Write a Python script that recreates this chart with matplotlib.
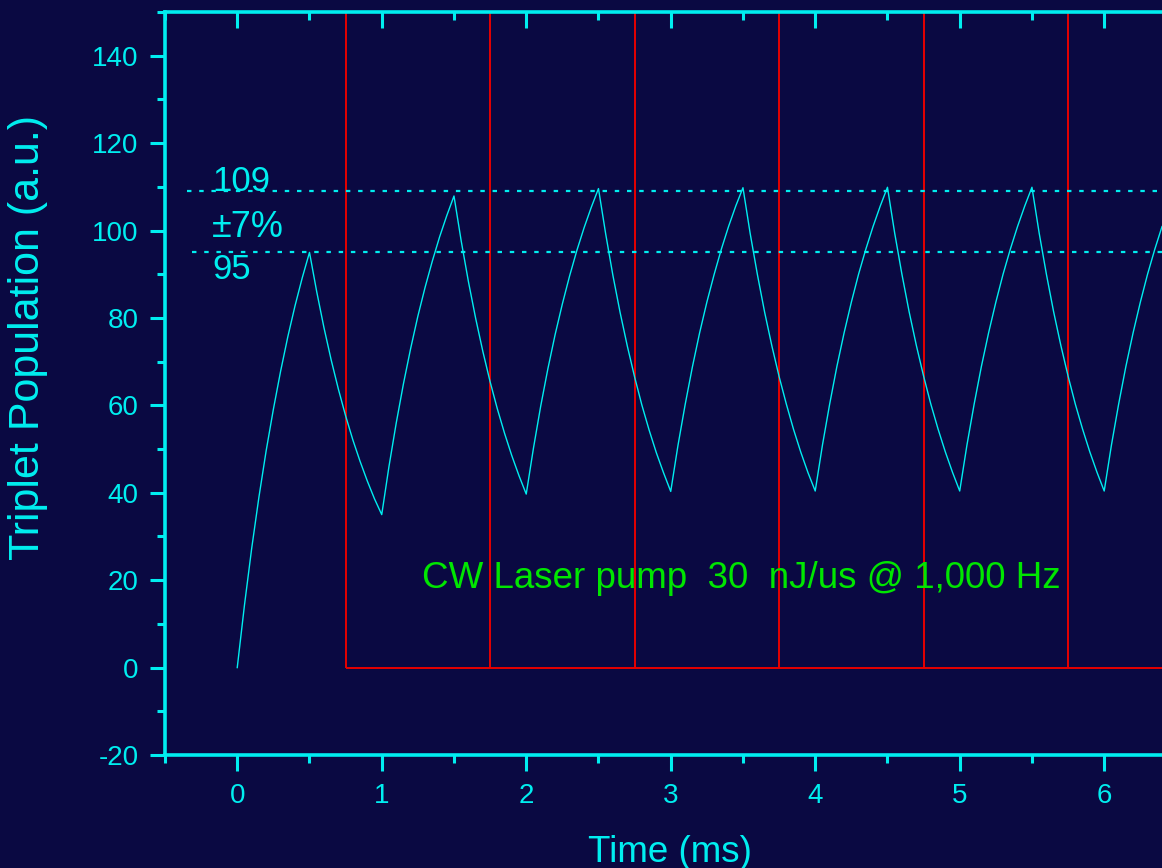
import matplotlib
matplotlib.use("Agg")
import matplotlib.pyplot as plt

time_ms = [0.00, 0.05, 0.10, 0.15, 0.20, 0.25, 0.30, 0.35, 0.40, 0.45,
           0.50, 0.55, 0.60, 0.65, 0.70, 0.75, 0.80, 0.85, 0.90, 0.95,
           1.00, 1.05, 1.10, 1.15, 1.20, 1.25, 1.30, 1.35, 1.40, 1.45,
           1.50, 1.55, 1.60, 1.65, 1.70, 1.75, 1.80, 1.85, 1.90, 1.95,
           2.00, 2.05, 2.10, 2.15, 2.20, 2.25, 2.30, 2.35, 2.40, 2.45,
           2.50, 2.55, 2.60, 2.65, 2.70, 2.75, 2.80, 2.85, 2.90, 2.95,
           3.00, 3.05, 3.10, 3.15, 3.20, 3.25, 3.30, 3.35, 3.40, 3.45,
           3.50, 3.55, 3.60, 3.65, 3.70, 3.75, 3.80, 3.85, 3.90, 3.95,
           4.00, 4.05, 4.10, 4.15, 4.20, 4.25, 4.30, 4.35, 4.40, 4.45,
           4.50, 4.55, 4.60, 4.65, 4.70, 4.75, 4.80, 4.85, 4.90, 4.95,
           5.00, 5.05, 5.10, 5.15, 5.20, 5.25, 5.30, 5.35, 5.40, 5.45,
           5.50, 5.55, 5.60, 5.65, 5.70, 5.75, 5.80, 5.85, 5.90, 5.95,
           6.00, 6.05, 6.10, 6.15, 6.20, 6.25, 6.30, 6.35, 6.40]
population = [0.0, 14.3, 27.3, 39.0, 49.6, 59.1, 67.8, 75.7, 82.8, 89.2,
              95.0, 86.0, 77.8, 70.4, 63.7, 57.6, 52.1, 47.2, 42.7, 38.6,
              35.0, 46.0, 55.9, 64.9, 73.0, 80.4, 87.0, 93.0, 98.5, 103.4,
              107.9, 97.6, 88.3, 79.9, 72.3, 65.4, 59.2, 53.6, 48.5, 43.9,
              39.7, 50.2, 59.8, 68.4, 76.2, 83.2, 89.6, 95.4, 100.6, 105.3,
              109.6, 99.2, 89.7, 81.2, 73.5, 66.5, 60.1, 54.4, 49.2, 44.6,
              40.3, 50.8, 60.2, 68.8, 76.6, 83.6, 89.9, 95.7, 100.9, 105.6,
              109.8, 99.3, 89.9, 81.3, 73.6, 66.6, 60.3, 54.5, 49.3, 44.6,
              40.4, 50.9, 60.3, 68.9, 76.6, 83.6, 90.0, 95.7, 100.9, 105.6,
              109.9, 99.4, 90.0, 81.4, 73.7, 66.7, 60.3, 54.6, 49.4, 44.7,
              40.4, 50.9, 60.3, 68.9, 76.6, 83.6, 90.0, 95.7, 100.9, 105.6,
              109.9, 99.4, 90.0, 81.4, 73.7, 66.7, 60.3, 54.6, 49.4, 44.7,
              40.4, 50.9, 60.3, 68.9, 76.6, 83.6, 90.0, 95.7, 100.9]
pulse_times = [0.75, 1.75, 2.75, 3.75, 4.75, 5.75]
pulse_top = 150
pulse_base = 0
pulse_end = 6.4
upper_level = 109
lower_level = 95
upper_label = "109"
mid_label = "\u00b17%"
lower_label = "95"
note_text = "CW Laser pump  30  nJ/us @ 1,000 Hz"
x_ticks = [0, 1, 2, 3, 4, 5, 6]
x_minor = [-0.5, 0.5, 1.5, 2.5, 3.5, 4.5, 5.5]
y_ticks = [-20, 0, 20, 40, 60, 80, 100, 120, 140]
y_minor = [-10, 10, 30, 50, 70, 90, 110, 130, 150]

BG = "#0a0942"
CYAN = "#00eef0"
RED = "#e80000"
GREEN = "#00e600"

plt.rcParams["font.family"] = ["Liberation Sans", "DejaVu Sans"]
plt.rcParams["axes.unicode_minus"] = False

W, H = 1162, 868
fig = plt.figure(figsize=(W / 100, H / 100), dpi=100, facecolor=BG)
ax = fig.add_axes([165 / W, (H - 755) / H, (W - 165) / W, (755 - 12) / H])
ax.set_facecolor(BG)

# red pump pulses
ax.vlines(pulse_times, pulse_base, pulse_top, colors=RED, lw=1.4, zorder=2)
ax.hlines(pulse_base, pulse_times[0], pulse_end, colors=RED, lw=1.4, zorder=2)

# dotted reference levels
ax.hlines(upper_level, -0.35, pulse_end, colors=CYAN, lw=1.6,
          linestyles=(0, (2, 3.5)), zorder=2)
ax.hlines(lower_level, -0.31, pulse_end, colors=CYAN, lw=1.6,
          linestyles=(0, (2, 3.5)), zorder=2)

# population curve
ax.plot(time_ms, population, color=CYAN, lw=1.0, zorder=3)

# annotations
ax.text(-0.17, upper_level + 0.1, upper_label, color=CYAN, fontsize=25,
        ha="left", va="baseline")
ax.text(-0.175, 98.6, mid_label, color=CYAN, fontsize=26,
        ha="left", va="baseline")
ax.text(-0.175, 89.0, lower_label, color=CYAN, fontsize=25,
        ha="left", va="baseline")
ax.text(3.49, 18.3, note_text, color=GREEN, fontsize=26.5,
        ha="center", va="baseline")

# spines
for side in ["left", "bottom", "top"]:
    ax.spines[side].set_color(CYAN)
    ax.spines[side].set_linewidth(2.6)
ax.spines["right"].set_visible(False)

ax.set_xticks(x_ticks)
ax.set_xticks(x_minor, minor=True)
ax.set_yticks(y_ticks)
ax.set_yticks(y_minor, minor=True)
ax.set_xlim(-0.5, 6.4)
ax.set_ylim(-20, 150)

ax.tick_params(axis="both", which="both", colors=CYAN, width=2.2,
               labelsize=20, labelcolor=CYAN)
ax.tick_params(axis="x", which="major", direction="out", length=11.5,
               top=True, pad=9)
ax.tick_params(axis="x", which="minor", direction="out", length=6, top=True)
ax.tick_params(axis="y", which="major", direction="out", length=11, pad=8)
ax.tick_params(axis="y", which="minor", direction="out", length=6)

# top ticks point inward
for t in ax.xaxis.get_major_ticks() + ax.xaxis.get_minor_ticks():
    t.tick2line.set_marker(3)  # TICKDOWN

ax.set_xlabel("Time (ms)", color=CYAN, fontsize=26.5)
ax.set_ylabel("Triplet Population (a.u.)", color=CYAN, fontsize=31)
ax.xaxis.set_label_coords((670 - 165) / (W - 165), (755 - 862) / 743)
ax.yaxis.set_label_coords((28 - 165) / (W - 165), (755 - 338) / 743)
ax.xaxis.label.set_va("baseline")
ax.yaxis.label.set_va("center")

fig.savefig("out.png", dpi=100, facecolor=BG)
